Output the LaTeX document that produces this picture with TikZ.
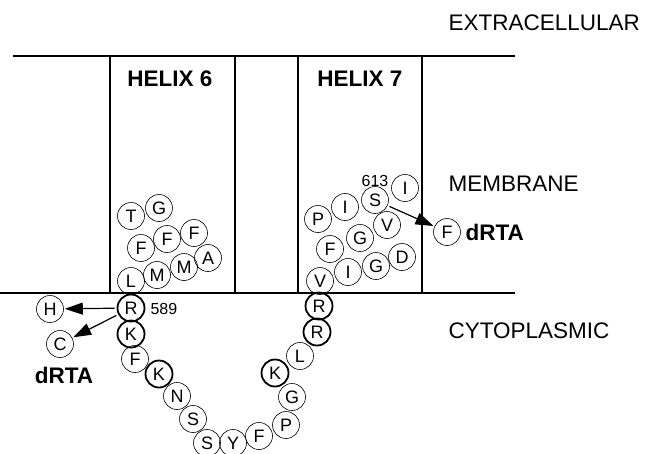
\documentclass[tikz,border=0pt]{standalone}
\usepackage{fontspec}
\setmainfont{Liberation Sans}
\usetikzlibrary{arrows.meta}
\tikzset{
  res/.style={circle, draw, line width=0.6pt, minimum size=27pt, inner sep=0pt, font=\fontsize{18}{18}\selectfont},
  hot/.style={res, line width=1.8pt},
  region/.style={anchor=west, font=\fontsize{22.5}{24}\selectfont},
  helixlbl/.style={font=\fontsize{22.5}{24}\selectfont\bfseries},
  mutarrow/.style={line width=1.2pt, -{Triangle[length=18pt,width=12pt]}, shorten <=2pt, shorten >=1pt}
}
\begin{document}
\begin{tikzpicture}[x=1pt, y=-1pt]
\useasboundingbox (0,0) rectangle (652,453);
% membrane
\draw[line width=1.5pt] (13,56) -- (515,56);
\draw[line width=1.5pt] (0,293) -- (515,293);
\draw[line width=1.3pt] (110,56) -- (110,293);
\draw[line width=1.3pt] (235,56) -- (235,293);
\draw[line width=1.3pt] (298,56) -- (298,293);
\draw[line width=1.3pt] (422,56) -- (422,293);
\node[region] (extra) at (445,23) {EXTRACELLULAR};
\node[region] (memb) at (445,184) {MEMBRANE};
\node[region] (cyto) at (445,331) {CYTOPLASMIC};
\node[helixlbl] (h6) at (170,79) {HELIX 6};
\node[helixlbl] (h7) at (360,79) {HELIX 7};
% helix 6
\node[res] (r580) at (131,216){T};
\node[res] (r581) at (159,208){G};
\node[res] (r582) at (141,248){F};
\node[res] (r583) at (167,239){F};
\node[res] (r584) at (194,233){F};
\node[res] (r585) at (208,258){A};
\node[res] (r586) at (184,267){M};
\node[res] (r587) at (157,275){M};
\node[res] (r588) at (131,281){L};
% loop
\node[hot] (r589) at (131,308){R};
\node[hot] (r590) at (131,334){K};
\node[res] (r591) at (135,359){F};
\node[hot] (r592) at (159,374){K};
\node[res] (r593) at (177,396){N};
\node[res] (r594) at (193,419){S};
\node[res] (r595) at (207,443){S};
\node[res] (r596) at (233,443){Y};
\node[res] (r597) at (259,436){F};
\node[res] (r598) at (286,425){P};
\node[res] (r599) at (292,397){G};
\node[hot] (r600) at (275,373){K};
\node[res] (r601) at (300,356){L};
\node[hot] (r602) at (317,332){R};
\node[hot] (r603) at (319,306){R};
% helix 7
\node[res] (r604) at (320,281){V};
\node[res] (r605) at (348,272){I};
\node[res] (r606) at (376,266){G};
\node[res] (r607) at (402,257){D};
\node[res] (r608) at (330,249){F};
\node[res] (r609) at (360,238){G};
\node[res] (r610) at (387,225){V};
\node[res] (r611) at (318,219){P};
\node[res] (r612) at (345,207){I};
\node[res] (r613) at (375,200){S};
\node[res] (r614) at (405,188){I};
\node[font=\fontsize{16}{16}\selectfont] (n613) at (375,181){613};
\node[anchor=west, font=\fontsize{16}{16}\selectfont] (n589) at (147,309){589};
% dRTA mutants
\node[res] (mutH) at (50,309){H};
\node[res] (mutC) at (60,344){C};
\node[res] (mutF) at (447,232){F};
\node[helixlbl] (drta1) at (64,375){dRTA};
\node[helixlbl, anchor=west] (drta2) at (462,232){dRTA};
\draw[mutarrow] (r589) -- (mutH);
\draw[mutarrow] (r589) -- (mutC);
\draw[mutarrow] (r613) -- (mutF);
\end{tikzpicture}
\end{document}
